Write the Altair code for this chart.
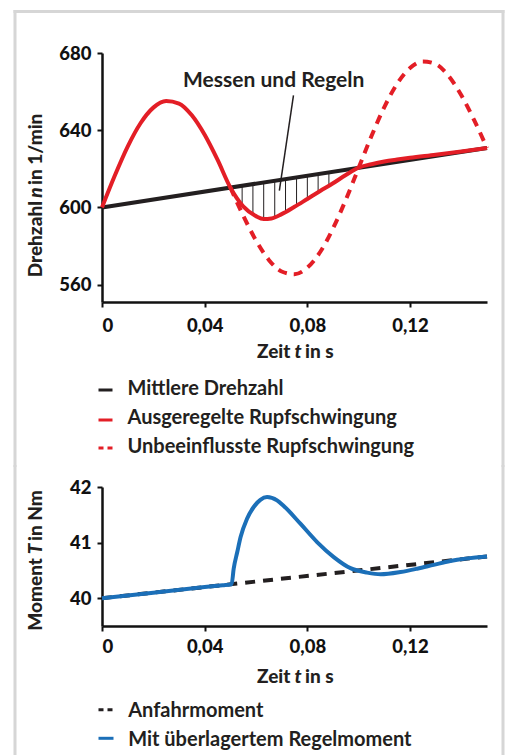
import altair as alt
import pandas as pd

# ---------------- data ----------------
x_ticks = [0, 0.04, 0.08, 0.12]

# upper panel: speed n in 1/min
t_mean = [0.0, 0.15]
n_mean = [600.0, 630.8]

t_reg = [0.0, 0.005, 0.01, 0.015, 0.02, 0.025, 0.03, 0.035, 0.04, 0.045, 0.05,
         0.055, 0.06, 0.063, 0.066, 0.07, 0.075, 0.08, 0.085, 0.09, 0.095, 0.1,
         0.105, 0.11, 0.115, 0.12, 0.13, 0.14, 0.15]
n_reg = [600.0, 616.5, 631.5, 643.6, 651.7, 655.1, 653.8, 647.7, 637.6, 624.7, 610.3,
         600.5, 595.5, 594.0, 594.3, 596.5, 600.3, 604.4, 608.5, 612.5, 616.8, 620.6,
         622.4, 623.8, 624.8, 625.7, 627.3, 629.0, 630.8]

t_free = [0.05, 0.055, 0.06, 0.065, 0.07, 0.075, 0.08, 0.085, 0.09, 0.095, 0.1,
          0.105, 0.11, 0.115, 0.12, 0.125, 0.13, 0.135, 0.14, 0.145, 0.15]
n_free = [610.3, 595.8, 582.9, 572.8, 566.8, 565.4, 568.8, 576.9, 589.1, 604.0, 620.5,
          637.0, 652.0, 664.1, 672.2, 675.6, 674.3, 668.2, 658.1, 645.2, 630.8]

t_hatch = [0.0546, 0.0588, 0.063, 0.0673, 0.0715, 0.0758, 0.08, 0.0842, 0.0884]
n_hatch_top = [611.2, 612.1, 612.9, 613.8, 614.7, 615.5, 616.4, 617.3, 618.1]
n_hatch_bot = [601.3, 596.0, 594.0, 595.0, 597.7, 601.0, 604.4, 608.0, 611.8]

ann_text = "Messen und Regeln"
ann_t, ann_n = 0.0669, 662.3
lead_t = [0.0746, 0.0691]
lead_n = [658.0, 608.7]

legend_top = ["Mittlere Drehzahl", "Ausgeregelte Rupfschwingung", "Unbeeinflusste Rupfschwingung"]

# lower panel: torque T in Nm
t_anf = [0.0, 0.15]
T_anf = [40.0, 40.75]

t_mom = [0.0, 0.02, 0.04, 0.047, 0.0505, 0.0513, 0.0527, 0.054, 0.0565, 0.0591, 0.0617,
         0.0643, 0.0682, 0.0708, 0.0773, 0.0838, 0.0903, 0.0968, 0.1033, 0.1085,
         0.1163, 0.1228, 0.1292, 0.1357, 0.15]
T_mom = [40.0, 40.1, 40.2, 40.232, 40.25, 40.53, 40.83, 41.10, 41.43, 41.64, 41.77,
         41.82, 41.76, 41.66, 41.34, 41.01, 40.74, 40.54, 40.46, 40.43,
         40.47, 40.53, 40.60, 40.67, 40.75]

legend_bot = ["Anfahrmoment", "Mit überlagertem Regelmoment"]

# ---------------- styling ----------------
FONT = "Lato"
BLACK = "#231f20"
RED = "#e31e26"
BLUE = "#1b6fb8"
FRAME = "#d6d6d6"

one = pd.DataFrame({"k": [0]})

def txt(text, x, y, size=20, weight=700, style="normal", align="left",
        baseline="alphabetic", angle=0, color=BLACK):
    return alt.Chart(one).mark_text(
        text=text, font=FONT, fontSize=size, fontWeight=weight, fontStyle=style,
        align=align, baseline=baseline, angle=angle, color=color
    ).encode(x=alt.value(x), y=alt.value(y))

def hrule(x1, x2, y, color, width, dash=None):
    kw = dict(color=color, strokeWidth=width)
    if dash:
        kw["strokeDash"] = dash
    return alt.Chart(one).mark_rule(**kw).encode(
        x=alt.value(x1), x2=alt.value(x2), y=alt.value(y))

def box(x1, x2, y1, y2):
    return alt.Chart(one).mark_rect(color=FRAME, strokeWidth=0).encode(
        x=alt.value(x1), x2=alt.value(x2), y=alt.value(y1), y2=alt.value(y2))

label_expr = "datum.value == 0 ? '0' : replace(format(datum.value, '.2f'), '.', ',')"

def xenc(pad):
    return alt.X("t:Q", scale=alt.Scale(domain=[0, 0.15], nice=False, zero=False),
                 axis=alt.Axis(values=x_ticks, labelExpr=label_expr, title=None,
                               labelPadding=pad))

# ---------------- upper panel ----------------
df_mean = pd.DataFrame({"t": t_mean, "n": n_mean})
df_reg = pd.DataFrame({"t": t_reg, "n": n_reg})
df_free = pd.DataFrame({"t": t_free, "n": n_free})
df_hatch = pd.DataFrame({"t": t_hatch, "n": n_hatch_top, "n2": n_hatch_bot})
df_lead = pd.DataFrame({"t": [lead_t[0]], "n": [lead_n[0]], "t2": [lead_t[1]], "n2": [lead_n[1]]})
df_ann = pd.DataFrame({"t": [ann_t], "n": [ann_n], "label": [ann_text]})

yN = alt.Y("n:Q", scale=alt.Scale(domain=[551, 680], nice=False, zero=False),
           axis=alt.Axis(values=[560, 600, 640, 680], format="d", title=None))

hatch = alt.Chart(df_hatch).mark_rule(color=BLACK, strokeWidth=1).encode(
    x=xenc(9), y=yN, y2="n2:Q")
mean_line = alt.Chart(df_mean).mark_line(color=BLACK, strokeWidth=4).encode(x="t:Q", y="n:Q")
free_line = alt.Chart(df_free).mark_line(color=RED, strokeWidth=4, strokeDash=[9, 7],
                                         interpolate="monotone").encode(x="t:Q", y="n:Q")
reg_line = alt.Chart(df_reg).mark_line(color=RED, strokeWidth=4,
                                       interpolate="monotone").encode(x="t:Q", y="n:Q")
lead = alt.Chart(df_lead).mark_rule(color=BLACK, strokeWidth=1.5).encode(
    x="t:Q", y="n:Q", x2="t2:Q", y2="n2:Q")
ann = alt.Chart(df_ann).mark_text(font=FONT, fontSize=21, fontWeight=700, color=BLACK,
                                  align="center", baseline="alphabetic").encode(
    x="t:Q", y="n:Q", text="label:N")

top_layers = [
    box(-88.5, 402.5, -43, -40),
    box(-88.5, -85.5, -43, 414),
    box(399.5, 402.5, -43, 414),
    hatch, mean_line, free_line, reg_line, lead, ann,
    # y title
    txt("Drehzahl", -60.5, 148, size=19, weight=900, align="right", angle=270),
    txt("n", -60.5, 139.5, size=19, weight=900, style="italic", align="center", angle=270),
    txt("in 1/min", -60.5, 132, size=19, weight=900, align="left", angle=270),
    # x title
    txt("Zeit", 188.5, 305, size=19, weight=900, align="right"),
    txt("t", 196, 305, size=19, weight=900, style="italic", align="center"),
    txt("in s", 203, 305, size=19, weight=900, align="left"),
    # legend
    hrule(-3.5, 10.5, 337, BLACK, 3),
    txt(legend_top[0], 25.5, 342),
    hrule(-3.5, 10.5, 367, RED, 3),
    txt(legend_top[1], 25.5, 370.5),
    hrule(-3.5, 10.5, 395, RED, 3, dash=[5, 4]),
    txt(legend_top[2], 25.5, 399.5),
]
top = alt.layer(*top_layers).properties(width=385, height=249)

# ---------------- lower panel ----------------
df_anf = pd.DataFrame({"t": t_anf, "T": T_anf})
df_mom = pd.DataFrame({"t": t_mom, "T": T_mom})

yT = alt.Y("T:Q", scale=alt.Scale(domain=[39.5, 42], nice=False, zero=False),
           axis=alt.Axis(values=[40, 41, 42], format="d", title=None))

anf_line = alt.Chart(df_anf).mark_line(color=BLACK, strokeWidth=4, strokeDash=[10, 8]).encode(
    x=xenc(6), y=yT)
mom_line = alt.Chart(df_mom).mark_line(color=BLUE, strokeWidth=4,
                                       interpolate="monotone").encode(x="t:Q", y="T:Q")

bot_layers = [
    box(-88.5, -85.5, -22, 290),
    box(399.5, 402.5, -22, 290),
    anf_line, mom_line,
    txt("Moment", -60.5, 71, size=19, weight=900, align="right", angle=270),
    txt("T", -60.5, 62, size=19, weight=900, style="italic", align="center", angle=270),
    txt("in Nm", -60.5, 54, size=19, weight=900, align="left", angle=270),
    txt("Zeit", 188.5, 196, size=19, weight=900, align="right"),
    txt("t", 196, 196, size=19, weight=900, style="italic", align="center"),
    txt("in s", 203, 196, size=19, weight=900, align="left"),
    hrule(-3.5, 11.5, 222.7, BLACK, 3, dash=[5, 4]),
    txt(legend_bot[0], 26.2, 230.3),
    hrule(-3.5, 11.5, 251.3, BLUE, 3),
    txt(legend_bot[1], 26.2, 258.7),
]
bottom = alt.layer(*bot_layers).properties(width=385, height=139)

chart = alt.vconcat(top, bottom, spacing=-4).properties(
    padding={"left": 13, "top": 9, "right": 0, "bottom": 0},
    background="white",
).configure_view(stroke="transparent").configure_axis(
    labelFont=FONT, labelFontSize=18.5, labelFontWeight=900, labelColor="#111111",
    domainColor="#111111", domainWidth=2.5, tickColor="#111111", tickWidth=2,
    tickSize=5, grid=False, labelPadding=6,
)

chart.save("out.html", embed_options={"renderer": "svg", "actions": False})
